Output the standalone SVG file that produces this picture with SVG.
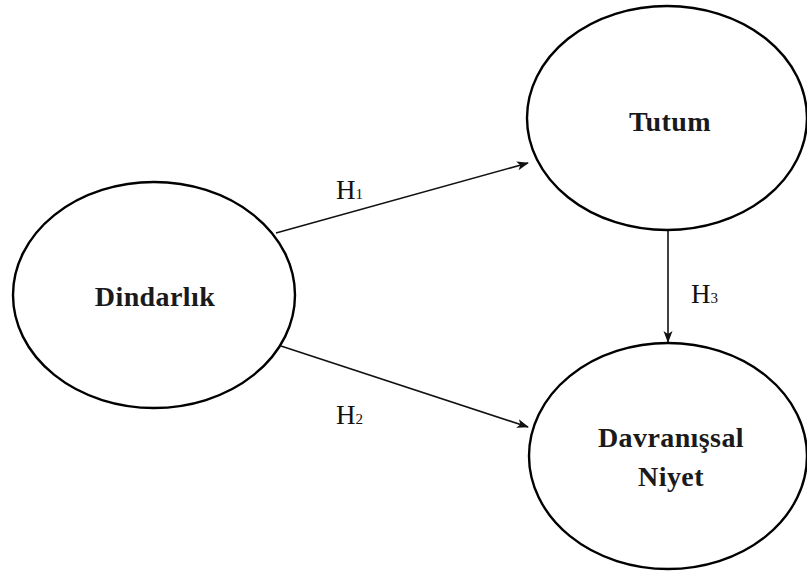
<svg xmlns="http://www.w3.org/2000/svg" width="807" height="573" viewBox="0 0 807 573">
<defs>
<style>
.node{fill:#fff;stroke:#000;stroke-width:2.4}
.lbl{font-family:"Liberation Serif",serif;font-weight:bold;font-size:28px;letter-spacing:0.4px;fill:#1a1a1a;text-anchor:middle}
.h{font-family:"Liberation Serif",serif;font-size:27px;fill:#111}
.sub{font-size:15px}
.edge{stroke:#111;stroke-width:1.6;fill:none}
</style>
<marker id="arr" viewBox="0 0 12 10" refX="11" refY="5" markerWidth="12" markerHeight="10" markerUnits="userSpaceOnUse" orient="auto">
<path d="M0,0.5 L12,5 L0,9.5 L3,5 Z" fill="#111"/>
</marker>
</defs>
<rect width="807" height="573" fill="#fff"/>
<g id="edges">
<line class="edge" x1="276" y1="233" x2="528" y2="163" marker-end="url(#arr)"/>
<line class="edge" x1="281" y1="346" x2="528" y2="427" marker-end="url(#arr)"/>
<line class="edge" x1="668" y1="230" x2="668" y2="342" marker-end="url(#arr)"/>
</g>
<g id="labels">
<text class="h" x="336" y="199">H<tspan class="sub">1</tspan></text>
<text class="h" x="336" y="424">H<tspan class="sub">2</tspan></text>
<text class="h" x="691" y="303">H<tspan class="sub">3</tspan></text>
</g>
<g id="dindarlik">
<ellipse class="node" cx="154" cy="295" rx="141" ry="113"/>
<text class="lbl" x="155" y="306">Dindarlık</text>
</g>
<g id="tutum">
<ellipse class="node" cx="667" cy="118" rx="140" ry="112"/>
<text class="lbl" x="670" y="131">Tutum</text>
</g>
<g id="davranissal">
<ellipse class="node" cx="668" cy="456" rx="139" ry="113"/>
<text class="lbl" x="671" y="447">Davranışsal</text>
<text class="lbl" x="671" y="486">Niyet</text>
</g>
</svg>
